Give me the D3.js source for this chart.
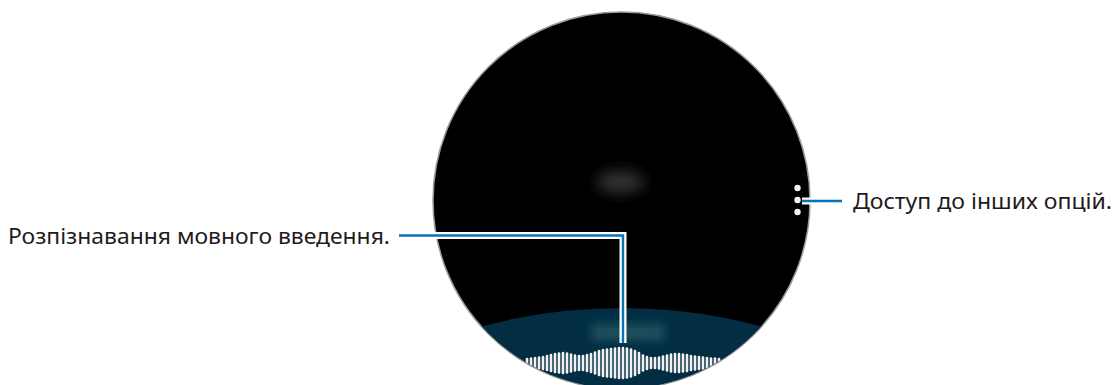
<!DOCTYPE html>
<meta charset="utf-8">
<style>
  body { margin: 0; background: #fff; }
  svg { display: block; }
</style>
<svg width="1115" height="385"></svg>
<script src="https://d3js.org/d3.v7.min.js"></script>
<script>

// callout labels
var labels = ["Розпізнавання мовного введення.", "Доступ до інших опцій."];

// heights of the voice waveform bars, left to right
var barHeights = [8, 9, 10, 11, 12, 14, 16, 18, 19, 20,
                  19, 17, 15, 14, 14, 16, 18, 21, 24, 26,
                  27, 28, 29, 30, 30, 29, 27, 24, 20, 15,
                  12, 10, 10, 11, 13, 15, 17, 18, 18, 17,
                  16, 14, 13, 12, 11, 10, 9, 9, 8];

// the three "more options" dots
var menuDots = [0, 1, 2];

var svg = d3.select("svg");
var cx = 621.5, cy = 200.5, r = 188;
var blue = "#0a72b8";

var defs = svg.append("defs");
defs.append("clipPath").attr("id", "watch")
  .append("circle").attr("cx", cx).attr("cy", cy).attr("r", r);
defs.append("filter").attr("id", "blur1")
  .attr("x", "-50%").attr("y", "-50%").attr("width", "200%").attr("height", "200%")
  .append("feGaussianBlur").attr("stdDeviation", 7);
defs.append("filter").attr("id", "blur2")
  .attr("x", "-50%").attr("y", "-50%").attr("width", "200%").attr("height", "200%")
  .append("feGaussianBlur").attr("stdDeviation", 5);

// watch face
svg.append("circle")
  .attr("cx", cx).attr("cy", cy).attr("r", r + 0.5)
  .attr("fill", "#000")
  .attr("stroke", "#9a9a9a")
  .attr("stroke-width", 1.5);

var face = svg.append("g").attr("clip-path", "url(#watch)");

// faint glow in the middle
face.append("ellipse")
  .attr("cx", cx - 1).attr("cy", 182)
  .attr("rx", 24).attr("ry", 11)
  .attr("fill", "#333")
  .attr("filter", "url(#blur1)");

// dark blue listening panel
face.append("circle")
  .attr("cx", cx).attr("cy", 308 + 538)
  .attr("r", 538)
  .attr("fill", "#022d43");

face.append("rect")
  .attr("x", 592).attr("y", 324)
  .attr("width", 72).attr("height", 17)
  .attr("fill", "#1f4f5c")
  .attr("filter", "url(#blur2)");

// waveform
var x = d3.scaleLinear().domain([0, barHeights.length - 1]).range([527, 719]);
var h = d3.scaleLinear().domain([0, 30]).range([0, 30]);
var midY = 363;

face.selectAll(".bar")
  .data(barHeights)
  .enter().append("line")
  .attr("class", "bar")
  .attr("x1", function(d, i) { return x(i); })
  .attr("x2", function(d, i) { return x(i); })
  .attr("y1", function(d) { return midY - h(d) / 2; })
  .attr("y2", function(d) { return midY + h(d) / 2; })
  .attr("stroke", "#f2f2f2")
  .attr("stroke-width", 2.6)
  .attr("stroke-linecap", "round");

// menu dots
svg.selectAll(".dot")
  .data(menuDots)
  .enter().append("circle")
  .attr("class", "dot")
  .attr("cx", 797.5)
  .attr("cy", function(d) { return 188 + d * 12; })
  .attr("r", 3.2)
  .attr("fill", "#f2f2f2");

// callout lines: white casing with blue core
function leader(points) {
  var line = d3.line();
  svg.append("path").attr("d", line(points))
    .attr("fill", "none").attr("stroke", "#fff").attr("stroke-width", 7)
    .attr("stroke-linejoin", "miter");
  svg.append("path").attr("d", line(points))
    .attr("fill", "none").attr("stroke", blue).attr("stroke-width", 2.4)
    .attr("stroke-linejoin", "miter");
}
leader([[399, 235.5], [623, 235.5], [623, 343]]);
leader([[802, 201], [842, 201]]);

// labels
var font = "'Noto Sans', 'Open Sans', sans-serif";
svg.append("text")
  .attr("x", 8).attr("y", 243.5)
  .attr("font-family", font).attr("font-size", 22)
  .attr("fill", "#1e1b1c")
  .attr("textLength", 382).attr("lengthAdjust", "spacingAndGlyphs")
  .text(labels[0]);

svg.append("text")
  .attr("x", 853).attr("y", 208.5)
  .attr("font-family", font).attr("font-size", 22)
  .attr("fill", "#1e1b1c")
  .attr("textLength", 259).attr("lengthAdjust", "spacingAndGlyphs")
  .text(labels[1]);

</script>
